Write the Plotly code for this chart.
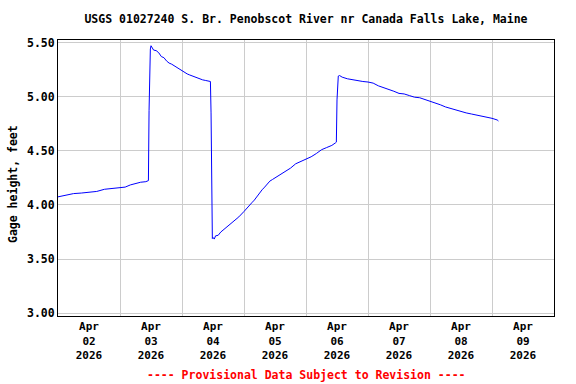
import plotly.graph_objects as go

title_text = "USGS 01027240 S. Br. Penobscot River nr Canada Falls Lake, Maine"
y_title = "Gage height, feet"
footer_text = "---- Provisional Data Subject to Revision ----"

times = [
    "2026-04-02 00:00", "2026-04-02 02:00", "2026-04-02 04:00", "2026-04-02 06:00",
    "2026-04-02 09:00", "2026-04-02 12:00", "2026-04-02 15:00", "2026-04-02 18:00",
    "2026-04-02 21:00", "2026-04-03 00:00", "2026-04-03 02:00", "2026-04-03 04:00",
    "2026-04-03 06:00", "2026-04-03 08:00", "2026-04-03 10:00", "2026-04-03 11:00",
    "2026-04-03 11:15", "2026-04-03 11:30", "2026-04-03 11:45", "2026-04-03 12:00",
    "2026-04-03 12:30", "2026-04-03 13:00", "2026-04-03 14:00", "2026-04-03 15:00",
    "2026-04-03 16:00", "2026-04-03 17:00", "2026-04-03 18:00", "2026-04-03 19:00",
    "2026-04-03 20:00", "2026-04-03 21:00", "2026-04-03 22:00", "2026-04-04 00:00",
    "2026-04-04 01:00", "2026-04-04 02:00", "2026-04-04 03:00", "2026-04-04 04:00",
    "2026-04-04 05:00", "2026-04-04 06:00", "2026-04-04 07:00", "2026-04-04 08:00",
    "2026-04-04 09:00", "2026-04-04 10:00", "2026-04-04 11:00", "2026-04-04 11:15",
    "2026-04-04 11:30", "2026-04-04 11:45", "2026-04-04 12:00", "2026-04-04 12:30",
    "2026-04-04 13:00", "2026-04-04 14:00", "2026-04-04 15:00", "2026-04-04 16:00",
    "2026-04-04 17:00", "2026-04-04 18:00", "2026-04-04 20:00", "2026-04-04 22:00",
    "2026-04-05 00:00", "2026-04-05 01:00", "2026-04-05 02:00", "2026-04-05 03:00",
    "2026-04-05 04:00", "2026-04-05 05:00", "2026-04-05 06:00", "2026-04-05 07:00",
    "2026-04-05 08:00", "2026-04-05 09:00", "2026-04-05 10:00", "2026-04-05 11:00",
    "2026-04-05 12:00", "2026-04-05 14:00", "2026-04-05 16:00", "2026-04-05 18:00",
    "2026-04-05 20:00", "2026-04-05 22:00", "2026-04-06 00:00", "2026-04-06 02:00",
    "2026-04-06 04:00", "2026-04-06 06:00", "2026-04-06 08:00", "2026-04-06 10:00",
    "2026-04-06 11:30", "2026-04-06 11:45", "2026-04-06 12:00", "2026-04-06 12:15",
    "2026-04-06 12:30", "2026-04-06 13:00", "2026-04-06 14:00", "2026-04-06 16:00",
    "2026-04-06 18:00", "2026-04-06 20:00", "2026-04-06 22:00", "2026-04-07 00:00",
    "2026-04-07 02:00", "2026-04-07 04:00", "2026-04-07 06:00", "2026-04-07 08:00",
    "2026-04-07 10:00", "2026-04-07 12:00", "2026-04-07 14:00", "2026-04-07 16:00",
    "2026-04-07 18:00", "2026-04-07 20:00", "2026-04-07 22:00", "2026-04-08 00:00",
    "2026-04-08 02:00", "2026-04-08 04:00", "2026-04-08 06:00", "2026-04-08 08:00",
    "2026-04-08 10:00", "2026-04-08 12:00", "2026-04-08 14:00", "2026-04-08 16:00",
    "2026-04-08 18:00", "2026-04-08 20:00", "2026-04-08 22:00", "2026-04-09 00:00",
    "2026-04-09 02:00", "2026-04-09 02:30",
]

gage_ft = [
    4.075, 4.085, 4.095, 4.105,
    4.110, 4.115, 4.125, 4.145,
    4.150, 4.155, 4.165, 4.185,
    4.200, 4.210, 4.215, 4.225,
    4.870, 5.320, 5.440, 5.470,
    5.455, 5.430, 5.425, 5.405,
    5.370, 5.360, 5.330, 5.310,
    5.300, 5.285, 5.270, 5.235,
    5.220, 5.210, 5.200, 5.190,
    5.185, 5.175, 5.165, 5.155,
    5.150, 5.145, 5.140, 4.850,
    4.170, 3.690, 3.700, 3.685,
    3.715, 3.720, 3.750, 3.770,
    3.790, 3.810, 3.850, 3.890,
    3.940, 3.970, 3.990, 4.020,
    4.045, 4.080, 4.110, 4.140,
    4.165, 4.190, 4.220, 4.235,
    4.250, 4.280, 4.305, 4.340,
    4.380, 4.400, 4.420, 4.445,
    4.475, 4.510, 4.530, 4.550,
    4.575, 4.580, 4.970, 5.170,
    5.190, 5.195, 5.180, 5.165,
    5.155, 5.150, 5.140, 5.135,
    5.125, 5.100, 5.085, 5.070,
    5.050, 5.030, 5.025, 5.010,
    4.995, 4.990, 4.975, 4.960,
    4.945, 4.925, 4.905, 4.890,
    4.875, 4.865, 4.850, 4.840,
    4.830, 4.820, 4.815, 4.800,
    4.785, 4.775,
]

day_ticks = ["2026-04-02 12:00", "2026-04-03 12:00", "2026-04-04 12:00", "2026-04-05 12:00",
             "2026-04-06 12:00", "2026-04-07 12:00", "2026-04-08 12:00", "2026-04-09 12:00"]
day_labels = ["Apr<br>02<br>2026", "Apr<br>03<br>2026", "Apr<br>04<br>2026", "Apr<br>05<br>2026",
              "Apr<br>06<br>2026", "Apr<br>07<br>2026", "Apr<br>08<br>2026", "Apr<br>09<br>2026"]
y_ticks = [3.0, 3.5, 4.0, 4.5, 5.0, 5.5]
x_range = ["2026-04-02 00:00", "2026-04-10 00:00"]
y_range = [2.975, 5.523]

FONT = "DejaVu Sans Mono"

fig = go.Figure()
fig.add_trace(go.Scatter(
    x=times, y=gage_ft, mode="lines",
    line=dict(color="#0000ff", width=1),
    showlegend=False, hoverinfo="x+y",
))

fig.update_layout(
    width=576, height=384,
    margin=dict(l=58, r=22, t=40, b=68, autoexpand=False),
    paper_bgcolor="white", plot_bgcolor="white",
    font=dict(family=FONT, size=11, color="black", weight="bold"),
    title=dict(text=title_text, x=0.5, xref="paper", y=1 - 19 / 384, yref="container",
               xanchor="center", yanchor="middle", automargin=False,
               font=dict(family=FONT, size=11.5, color="black", weight="bold")),
    annotations=[
        dict(text=footer_text, xref="paper", yref="paper", x=0.5, y=-(375 - 316) / 276,
             xanchor="center", yanchor="middle", showarrow=False,
             font=dict(family=FONT, size=11.5, color="#ff0000", weight="bold")),
        dict(text=y_title, xref="paper", yref="paper", x=-(58 - 13) / 496, y=0.5 - 6 / 276,
             xanchor="center", yanchor="middle", showarrow=False, textangle=-90,
             font=dict(family=FONT, size=11.5, color="black", weight="bold")),
    ],
)

fig.update_xaxes(
    range=x_range, tickvals=day_ticks, ticktext=day_labels, ticks="",
    showgrid=False, showline=True, linecolor="black", linewidth=1, mirror=True,
    tickfont=dict(family=FONT, size=11, color="black", weight="bold"),
    minor=dict(tick0="2026-04-02 00:00", dtick=86400000, showgrid=True,
               gridcolor="#cccccc", gridwidth=1, ticks=""),
    zeroline=False, automargin=False,
)
fig.update_yaxes(
    range=y_range, tickvals=y_ticks, tickformat=".2f", ticks="",
    showgrid=True, gridcolor="#cccccc", gridwidth=1,
    showline=True, linecolor="black", linewidth=1, mirror=True,
    tickfont=dict(family=FONT, size=11.5, color="black", weight="bold"),
    zeroline=False, automargin=False,
)

fig.write_html("out.html", config={"displayModeBar": False},
               post_script="document.body.style.margin='0px';document.body.style.overflow='hidden';")
